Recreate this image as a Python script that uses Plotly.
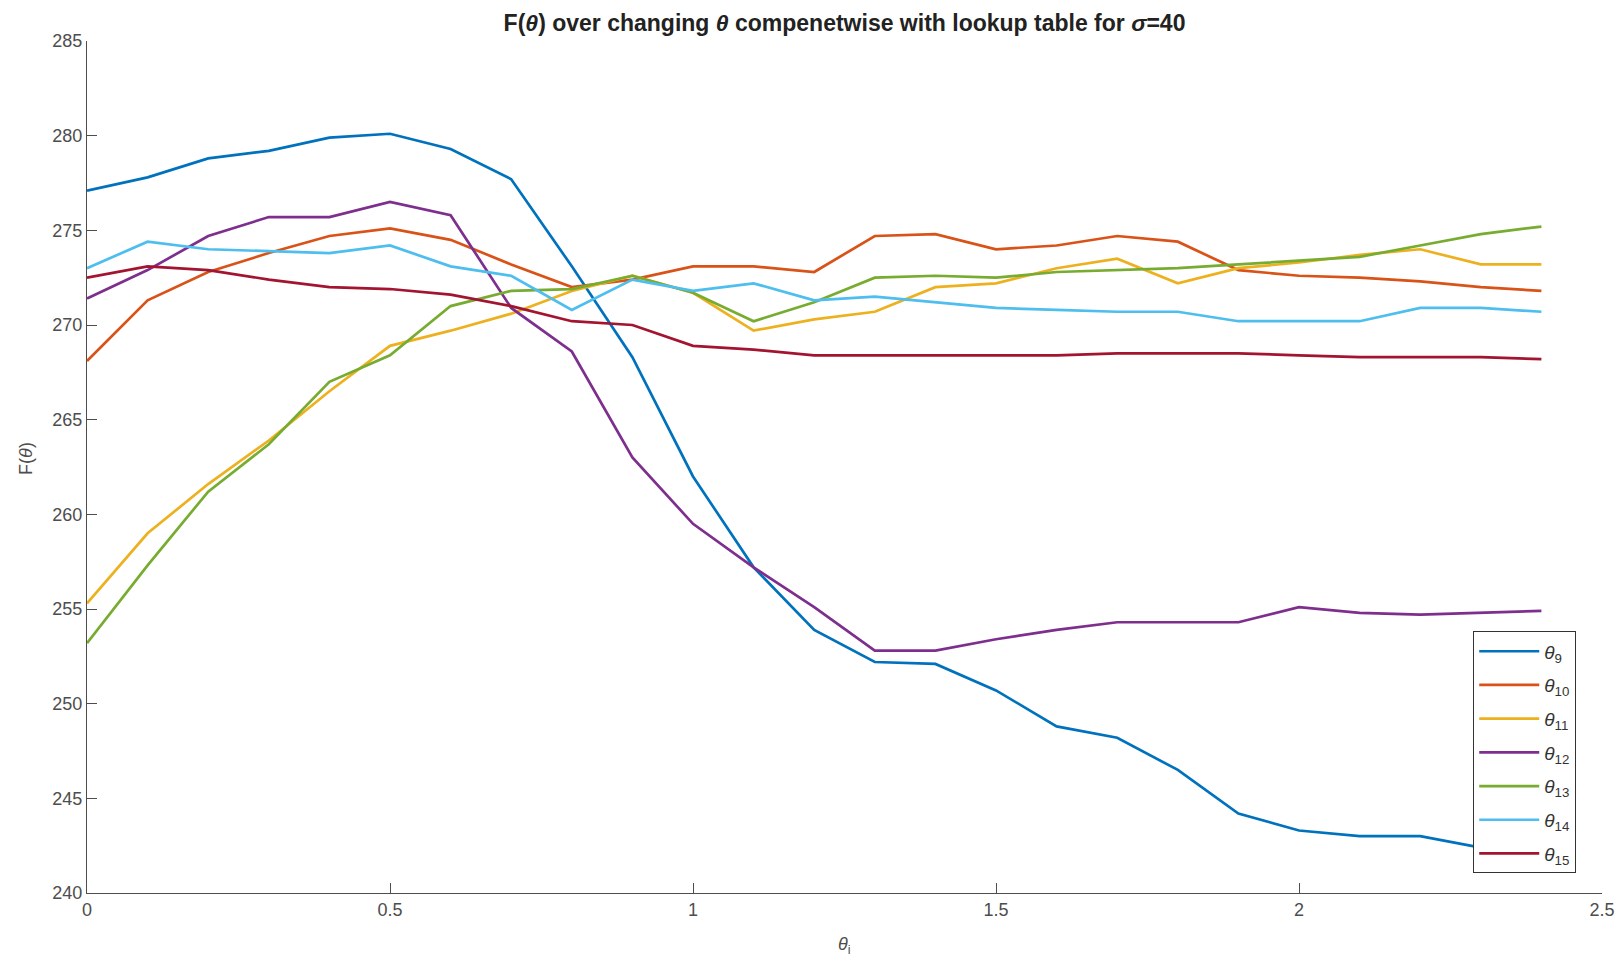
import plotly.graph_objects as go

x_vals = [round(0.1 * i, 1) for i in range(25)]

theta9 = [277.1, 277.8, 278.8, 279.2, 279.9, 280.1, 279.3, 277.7, 273.1, 268.3,
          262.0, 257.2, 253.9, 252.2, 252.1, 250.7, 248.8, 248.2, 246.5, 244.2,
          243.3, 243.0, 243.0, 242.4, 242.0]
theta10 = [268.1, 271.3, 272.8, 273.8, 274.7, 275.1, 274.5, 273.2, 272.0, 272.4,
           273.1, 273.1, 272.8, 274.7, 274.8, 274.0, 274.2, 274.7, 274.4, 272.9,
           272.6, 272.5, 272.3, 272.0, 271.8]
theta11 = [255.3, 259.0, 261.6, 263.9, 266.5, 268.9, 269.7, 270.6, 271.8, 272.6,
           271.7, 269.7, 270.3, 270.7, 272.0, 272.2, 273.0, 273.5, 272.2, 273.0,
           273.3, 273.7, 274.0, 273.2, 273.2]
theta12 = [271.4, 272.9, 274.7, 275.7, 275.7, 276.5, 275.8, 270.9, 268.6, 263.0,
           259.5, 257.2, 255.1, 252.8, 252.8, 253.4, 253.9, 254.3, 254.3, 254.3,
           255.1, 254.8, 254.7, 254.8, 254.9]
theta13 = [253.2, 257.3, 261.2, 263.7, 267.0, 268.4, 271.0, 271.8, 271.9, 272.6,
           271.7, 270.2, 271.2, 272.5, 272.6, 272.5, 272.8, 272.9, 273.0, 273.2,
           273.4, 273.6, 274.2, 274.8, 275.2]
theta14 = [273.0, 274.4, 274.0, 273.9, 273.8, 274.2, 273.1, 272.6, 270.8, 272.4,
           271.8, 272.2, 271.3, 271.5, 271.2, 270.9, 270.8, 270.7, 270.7, 270.2,
           270.2, 270.2, 270.9, 270.9, 270.7]
theta15 = [272.5, 273.1, 272.9, 272.4, 272.0, 271.9, 271.6, 271.0, 270.2, 270.0,
           268.9, 268.7, 268.4, 268.4, 268.4, 268.4, 268.4, 268.5, 268.5, 268.5,
           268.4, 268.3, 268.3, 268.3, 268.2]

series_names = ["9", "10", "11", "12", "13", "14", "15"]
series_vals = [theta9, theta10, theta11, theta12, theta13, theta14, theta15]
colors = ["#0072BD", "#D95319", "#EDB120", "#7E2F8E", "#77AC30", "#4DBEEE", "#A2142F"]

x_ticks = [0, 0.5, 1, 1.5, 2, 2.5]
x_tick_labels = ["0", "0.5", "1", "1.5", "2", "2.5"]
y_ticks = [240, 245, 250, 255, 260, 265, 270, 275, 280, 285]

FONT = "Liberation Sans, Arial, sans-serif"

fig = go.Figure()
for name, vals, col in zip(series_names, series_vals, colors):
    fig.add_trace(go.Scatter(
        x=x_vals, y=vals, mode="lines",
        name="<i>θ</i><sub>" + name + "</sub>",
        legendgroup=name,
        line=dict(color=col, width=2.7),
    ))

axis_font = dict(family=FONT, size=18, color="#4d4d4d")

fig.update_layout(
    width=1615, height=957,
    paper_bgcolor="white", plot_bgcolor="white",
    margin=dict(l=79, r=21, t=33, b=72),
    title=dict(
        text="<b>F(<i>θ</i>) over changing <i>θ</i> compenetwise with lookup table for <i>σ</i>=40</b>",
        x=0.5, xref="paper", xanchor="center", y=0.984, yanchor="middle",
        font=dict(family=FONT, size=23, color="#222222"),
    ),
    xaxis=dict(
        range=[0, 2.5], tickvals=x_ticks, ticktext=x_tick_labels,
        showgrid=False, zeroline=False, automargin=False,
        showline=True, linecolor="#4d4d4d", linewidth=1.3,
        ticks="inside", ticklen=10, tickwidth=1, tickcolor="#4d4d4d",
        tickfont=axis_font,
    ),
    yaxis=dict(
        range=[240, 285], tickvals=y_ticks,
        showgrid=False, zeroline=False, automargin=False,
        showline=True, linecolor="#4d4d4d", linewidth=1.3,
        ticks="inside", ticklen=10, tickwidth=1, tickcolor="#4d4d4d",
        tickfont=axis_font,
    ),
    legend=dict(
        x=0.915, y=0.023, xanchor="left", yanchor="bottom",
        bgcolor="white", bordercolor="#333333", borderwidth=1,
        font=dict(family=FONT, size=19, color="#333333"),
        traceorder="grouped", tracegroupgap=6, itemwidth=60,
    ),
    showlegend=True,
    annotations=[
        dict(text="F(<i>θ</i>)", xref="paper", yref="paper", x=-0.04, y=0.51,
             xanchor="center", yanchor="middle", textangle=-90, showarrow=False,
             font=axis_font),
        dict(text="<i>θ</i><sub>i</sub>", xref="paper", yref="paper", x=0.5, y=-0.062,
             xanchor="center", yanchor="middle", showarrow=False,
             font=axis_font),
    ],
)

fig.write_html("out.html")
